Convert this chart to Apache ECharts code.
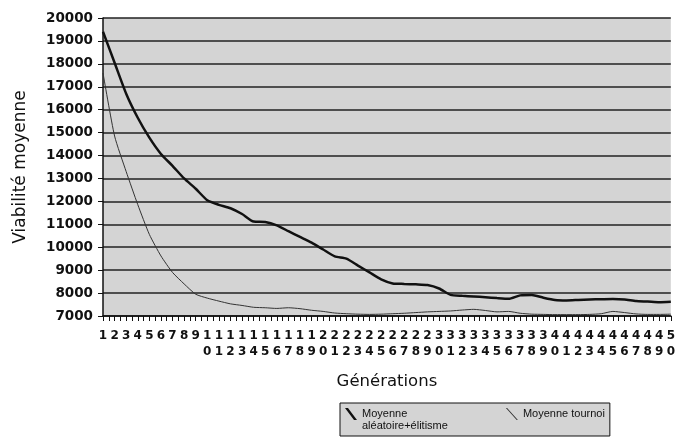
<!DOCTYPE html>
<html>
<head>
<meta charset="utf-8">
<script src="https://cdn.jsdelivr.net/npm/echarts@6/dist/echarts.min.js"></script>
<style>html,body{margin:0;padding:0;background:#fff}#c{width:678px;height:442px}</style>
</head>
<body>
<div id="c"></div>
<script>
var generations = [];
for (var g = 1; g <= 50; g++) generations.push(String(g));

var moyenneAleatoireElitisme = [
  19400, 18050, 16700, 15650, 14780, 14070, 13550, 13000, 12550, 12050,
  11850, 11700, 11450, 11120, 11100, 10950, 10700, 10450, 10200, 9900,
  9600, 9500, 9200, 8900, 8600, 8420, 8400, 8380, 8350, 8200,
  7920, 7880, 7850, 7820, 7780, 7750, 7900, 7920, 7800, 7700,
  7680, 7700, 7720, 7730, 7740, 7720, 7650, 7630, 7600, 7620
];
var moyenneTournoi = [
  17600, 14850, 13300, 11860, 10560, 9620, 8900, 8400, 7950, 7780,
  7650, 7530, 7460, 7380, 7360, 7330, 7360, 7320, 7250, 7200,
  7130, 7100, 7080, 7070, 7080, 7100, 7120, 7150, 7180, 7200,
  7220, 7260, 7290, 7240, 7180, 7200, 7120, 7080, 7070, 7060,
  7060, 7060, 7070, 7100, 7200, 7150, 7090, 7070, 7070, 7080
];
var seriesNames = ['Moyenne\naléatoire+élitisme', 'Moyenne tournoi'];

var chart = echarts.init(document.getElementById('c'));
chart.setOption({
  animation: false,
  backgroundColor: '#ffffff',
  grid: {left: 103, right: 6, top: 18, bottom: 126, show: true, backgroundColor: '#d4d4d4', borderWidth: 0},
  legend: {
    left: 340, top: 403,
    orient: 'horizontal',
    itemWidth: 12, itemHeight: 24, itemGap: 58,
    padding: [5, 5, 4, 5],
    backgroundColor: '#d4d4d4', borderColor: '#111', borderWidth: 1, borderRadius: 0,
    textStyle: {fontFamily: 'Liberation Sans', fontSize: 11, lineHeight: 12, color: '#111'},
    formatter: function (name) { return name.indexOf('\n') < 0 ? name + '\n ' : name; },
    data: [
      {name: seriesNames[0], icon: 'path://M0,0 L3,0 L12,12 L9,12 Z M0,24 L0.05,24 L0.05,23.95 Z'},
      {name: seriesNames[1], icon: 'path://M0,0 L1.2,0 L12,12 L10.8,12 Z M0,24 L0.05,24 L0.05,23.95 Z'}
    ]
  },
  xAxis: [{
    type: 'category',
    data: generations,
    boundaryGap: false,
    name: 'Générations',
    nameLocation: 'middle',
    nameGap: 57,
    nameTextStyle: {fontFamily: 'DejaVu Sans', fontSize: 16.5, color: '#111'},
    axisLine: {lineStyle: {color: '#111', width: 1.5}},
    axisTick: {show: true, interval: 0, length: 5, lineStyle: {color: '#111', width: 1}},
    axisLabel: {
      interval: 0, margin: 12,
      fontFamily: 'DejaVu Sans', fontWeight: 'bold', fontSize: 12, lineHeight: 16, color: '#111',
      formatter: function (v) { return v.split('').join('\n'); }
    },
    splitLine: {show: false}
  }, {
    type: 'value',
    min: 1, max: 50, interval: 0.5,
    position: 'bottom',
    axisLine: {show: true, onZero: false, lineStyle: {color: 'rgba(0,0,0,0)'}},
    axisTick: {show: true, length: 5, lineStyle: {color: '#111', width: 1}},
    axisLabel: {show: false},
    splitLine: {show: false}
  }],
  yAxis: {
    type: 'value',
    min: 7000, max: 20000, interval: 1000,
    name: 'Viabilité moyenne',
    nameLocation: 'middle',
    nameGap: 74,
    nameTextStyle: {fontFamily: 'DejaVu Sans', fontSize: 17, color: '#111'},
    axisLine: {show: true, lineStyle: {color: '#111', width: 1.5}},
    axisTick: {show: true, length: 5, lineStyle: {color: '#111'}},
    axisLabel: {margin: 10, fontFamily: 'DejaVu Sans', fontWeight: 'bold', fontSize: 13.5, color: '#111',
      formatter: function (v) { return String(v); }},
    splitLine: {show: true, lineStyle: {color: '#222', width: 1.5}}
  },
  series: [{
    name: seriesNames[0],
    type: 'line',
    data: moyenneAleatoireElitisme,
    showSymbol: false,
    smooth: 0.2,
    itemStyle: {color: '#111'},
    lineStyle: {color: '#111', width: 2.5}
  }, {
    name: seriesNames[1],
    type: 'line',
    data: moyenneTournoi,
    showSymbol: false,
    smooth: 0.2,
    itemStyle: {color: '#333'},
    lineStyle: {color: '#333', width: 1}
  }]
});
</script>
</body>
</html>
